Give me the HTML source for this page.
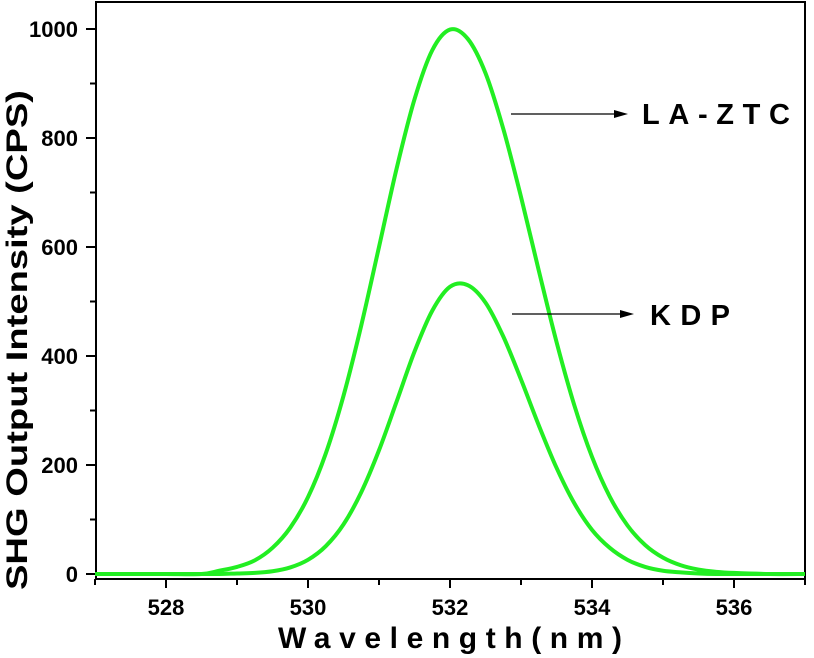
<!DOCTYPE html>
<html><head><meta charset="utf-8">
<style>
html,body{margin:0;padding:0;background:#fff;}
svg{display:block;font-family:"Liberation Sans",Arial,sans-serif;}
</style></head>
<body>
<svg id="chart" width="814" height="658" viewBox="0 0 814 658" xmlns="http://www.w3.org/2000/svg">
  <g id="axes"></g>
  <g id="series"></g>
  <text transform="translate(27,340) rotate(-90)" text-anchor="middle" font-size="30" font-weight="bold" textLength="500" lengthAdjust="spacingAndGlyphs">SHG Output Intensity (CPS)</text>
  <text x="278" y="648" font-size="30" font-weight="bold" textLength="344" lengthAdjust="spacing">Wavelength(nm)</text>
  <g>
    <line x1="511" y1="114" x2="620" y2="114" stroke="#000" stroke-width="1.2"/>
    <polygon points="628,114 614,110 614,118" fill="#000"/>
    <text x="642" y="124" font-size="29" font-weight="bold" textLength="148" lengthAdjust="spacing">LA-ZTC</text>
  </g>
  <g>
    <line x1="512" y1="314" x2="626" y2="314" stroke="#000" stroke-width="1.2"/>
    <polygon points="634,314 620,310 620,318" fill="#000"/>
    <text x="650" y="325" font-size="29" font-weight="bold" textLength="80" lengthAdjust="spacing">KDP</text>
  </g>
</svg>
<script>
const wavelengths = [527,527.5,528,528.5,528.75,529,529.25,529.5,529.75,530,530.25,530.5,530.75,531,531.25,531.5,531.75,532,532.25,532.5,532.75,533,533.25,533.5,533.75,534,534.25,534.5,534.75,535,535.25,535.5,535.75,536,536.5,537];
const laZtcValues = [0,0,0,0,6,13,25,48,85,141,221,327,456,600,745,871,961,999,982,919,817,692,557,426,310,215,142,89,53,30,16,8,4,2,0,0];
const kdpValues   = [0,0,0,0,0,1,2,5,12,26,51,91,150,227,317,408,483,527,530,498,436,357,273,195,130,81,48,26,13,6,3,1,0,0,0,0];
const xTickValues = [528,530,532,534,536];
const xMinorValues = [527,529,531,533,535,537];
const yTickValues = [0,200,400,600,800,1000];
const yMinorValues = [100,300,500,700,900];

const NS = "http://www.w3.org/2000/svg";
const L = 96, R = 805, T = 2, B = 579;
function xs(v){ return 95 + (v - 527) * 71; }
function ys(v){ return 574 - v * 0.545; }
function mk(tag, attrs, parent){
  const e = document.createElementNS(NS, tag);
  for (const k in attrs) e.setAttribute(k, attrs[k]);
  parent.appendChild(e);
  return e;
}
const axes = document.getElementById('axes');
const frame = mk('rect', {x:L, y:T, width:R-L, height:B-T, fill:'none', stroke:'#000', 'stroke-width':2}, axes);



xTickValues.forEach(v => {
  const t = mk('line', {x1:xs(v), x2:xs(v), y1:B, y2:B+9, stroke:'#000', 'stroke-width':2}, axes);
  
  
  const lb = mk('text', {x:xs(v), y:615, 'text-anchor':'middle', 'font-size':22, 'font-weight':'bold'}, axes);
  lb.textContent = v;
  
  
});
xMinorValues.forEach(v => {
  const t = mk('line', {x1:xs(v), x2:xs(v), y1:B, y2:B+6, stroke:'#000', 'stroke-width':2}, axes);
  
  
});
yTickValues.forEach(v => {
  const t = mk('line', {x1:L-10, x2:L, y1:ys(v), y2:ys(v), stroke:'#000', 'stroke-width':2}, axes);
  
  
  const lb = mk('text', {x:78, y:ys(v)+8, 'text-anchor':'end', 'font-size':22, 'font-weight':'bold'}, axes);
  lb.textContent = v;
  
  
});
yMinorValues.forEach(v => {
  const t = mk('line', {x1:L-6, x2:L, y1:ys(v), y2:ys(v), stroke:'#000', 'stroke-width':2}, axes);
  
  
});

function smoothPath(xv, yv){
  const p = xv.map((x,i) => [xs(x), ys(yv[i])]);
  let d = 'M' + p[0][0] + ',' + p[0][1];
  for (let i = 0; i < p.length - 1; i++){
    const p0 = p[i-1] || p[i], p1 = p[i], p2 = p[i+1], p3 = p[i+2] || p2;
    const c1x = p1[0] + (p2[0]-p0[0])/6, c1y = p1[1] + (p2[1]-p0[1])/6;
    const c2x = p2[0] - (p3[0]-p1[0])/6, c2y = p2[1] - (p3[1]-p1[1])/6;
    d += ' C' + c1x + ',' + c1y + ' ' + c2x + ',' + c2y + ' ' + p2[0] + ',' + p2[1];
  }
  return d;
}
const series = document.getElementById('series');
const s1 = mk('path', {d:smoothPath(wavelengths, laZtcValues), fill:'none', stroke:'#22ee22', 'stroke-width':4, 'stroke-linejoin':'round'}, series);


const s2 = mk('path', {d:smoothPath(wavelengths, kdpValues), fill:'none', stroke:'#22ee22', 'stroke-width':4, 'stroke-linejoin':'round'}, series);


</script>
</body></html>
